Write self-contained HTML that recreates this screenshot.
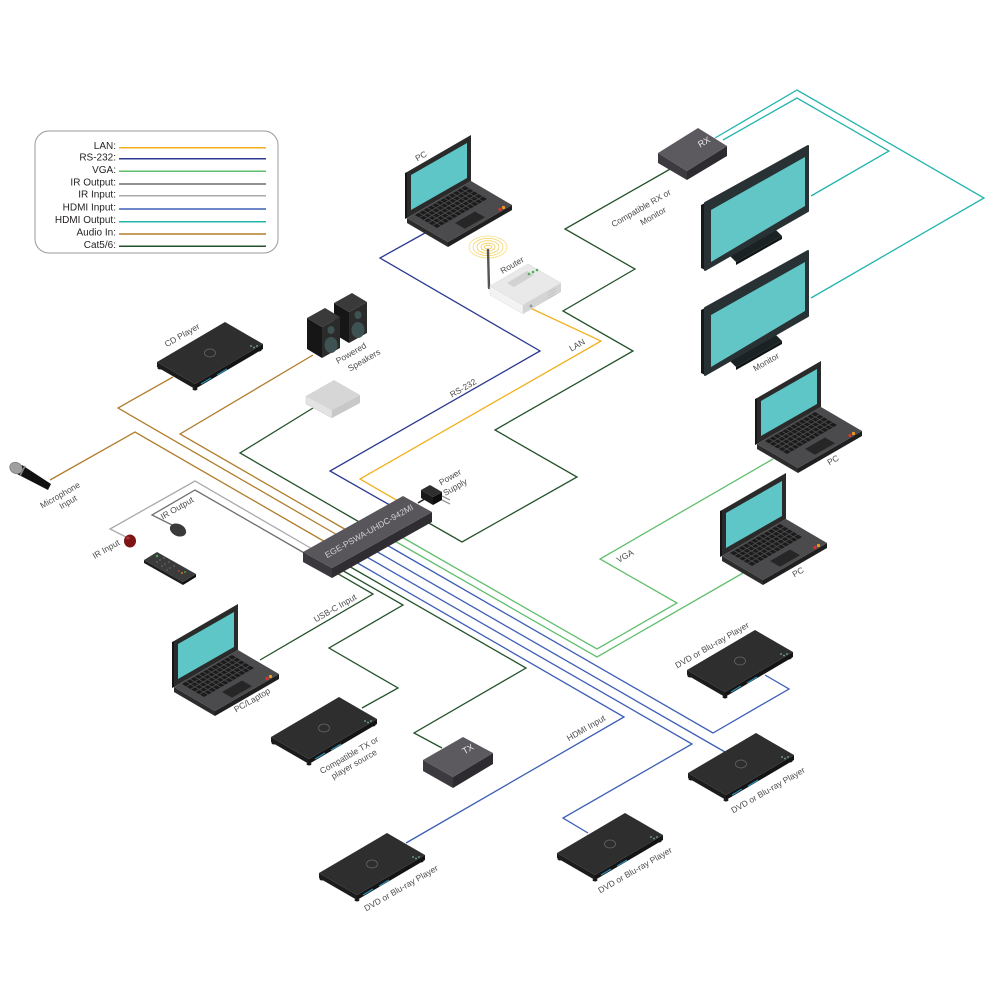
<!DOCTYPE html>
<html><head><meta charset="utf-8"><style>
html,body{margin:0;padding:0;background:#fff;}
svg{display:block;}
text{font-family:"Liberation Sans",sans-serif;}
.l{font-size:8.5px;fill:#4d4d4d;text-anchor:middle;}
.lg{font-size:10px;fill:#231f20;text-anchor:end;}
</style></head><body>
<svg width="1000" height="1000" viewBox="0 0 1000 1000" xmlns="http://www.w3.org/2000/svg">
<defs>
 <g id="lap">
  <polygon points="-2,1 -2,-45 0,-46 0,0" fill="#151515"/>
  <polygon points="0,0 0,-46 64,-83 64,-37" fill="#2a2a2a"/>
  <polygon points="4,-8 4,-43 60,-75 60,-40" fill="#5fc6c7"/>
  <polygon points="0,0 41,24 41,29 0,5" fill="#2c2c2c"/>
  <polygon points="41,24 105,-13 105,-8 41,29" fill="#1f1f1f"/>
  <polygon points="0,0 64,-37 105,-13 41,24" fill="#4b4b4d"/>
  <polygon points="8,-3 58,-32 80,-19 30,10" fill="#1b1b1b"/>
  <path d="M12.4,-0.4L62.4,-29.4M16.8,2.2L66.8,-26.8M21.2,4.8L71.2,-24.2M25.6,7.4L75.6,-21.6M12.2,-5.4L34.2,7.6M16.3,-7.8L38.3,5.2M20.5,-10.3L42.5,2.8M24.7,-12.7L46.7,0.3M28.8,-15.1L50.8,-2.1M33,-17.5L55,-4.5M37.2,-19.9L59.2,-6.9M41.3,-22.3L63.3,-9.3M45.5,-24.8L67.5,-11.8M49.7,-27.2L71.7,-14.2M53.8,-29.6L75.8,-16.6" stroke="#4b4b4d" stroke-width="0.9" fill="none"/>
  <polygon points="48,5 68,-6.5 78,-0.7 58,10.8" fill="#262626"/>
  <circle cx="93" cy="-8.5" r="1.6" fill="#d9342b"/>
  <circle cx="96.5" cy="-10.5" r="1.6" fill="#f39a1e"/>
 </g>
 <g id="dvd">
  <ellipse cx="3" cy="6" rx="2.5" ry="1.5" fill="#1a1a1a"/>
  <ellipse cx="38" cy="27" rx="2.5" ry="1.5" fill="#1a1a1a"/>
  <ellipse cx="102" cy="-12" rx="2.5" ry="1.5" fill="#1a1a1a"/>
  <polygon points="0,0 38,22 38,27 0,5" fill="#1c1c1c"/>
  <polygon points="38,22 106,-18 106,-13 38,27" fill="#141414"/>
  <polygon points="0,0 68,-40 106,-18 38,22" fill="#2e2e2e"/>
  <ellipse cx="53" cy="-9" rx="5.5" ry="4" fill="none" stroke="#6a6a6a" stroke-width="0.7"/>
  <line x1="44" y1="22" x2="54" y2="16" stroke="#2a90b5" stroke-width="1.2"/>
  <line x1="60" y1="13" x2="70" y2="7" stroke="#2a90b5" stroke-width="1.2"/>
  <circle cx="94" cy="-16" r="0.9" fill="#7aa"/>
  <circle cx="97" cy="-14.5" r="0.9" fill="#7aa"/>
  <circle cx="100" cy="-16" r="0.9" fill="#7aa"/>
 </g>
 <g id="mon">
  <polygon points="730,256 776,230 782,236 736,262" fill="#1b2223"/>
  <polygon points="736,262 782,236 782,239 736,265" fill="#0f1414"/>
  <polygon points="701,205 705,203 705,270 701,268" fill="#141a1b"/>
  <polygon points="705,203 808,146 808,211 705,270" fill="#283133" stroke="#283133" stroke-width="2" stroke-linejoin="round"/>
  <polygon points="711,210 805,157 805,206 711,262" fill="#62c6c7"/>
 </g>
</defs>

<!-- Legend -->
<rect x="35" y="131" width="243" height="122" rx="14" fill="#fff" stroke="#9a9a9a" stroke-width="1"/>
<g stroke-width="1.5">
 <line x1="119" y1="147.7" x2="266" y2="147.7" stroke="#f2b01e"/>
 <line x1="119" y1="158.7" x2="266" y2="158.7" stroke="#2b3990"/>
 <line x1="119" y1="171.3" x2="266" y2="171.3" stroke="#62bf6f"/>
 <line x1="119" y1="184" x2="266" y2="184" stroke="#6d6e71"/>
 <line x1="119" y1="195.7" x2="266" y2="195.7" stroke="#a7a9ac"/>
 <line x1="119" y1="209" x2="266" y2="209" stroke="#3c5eb5"/>
 <line x1="119" y1="221.7" x2="266" y2="221.7" stroke="#22b5ad"/>
 <line x1="119" y1="234" x2="266" y2="234" stroke="#b07d2b"/>
 <line x1="119" y1="246.3" x2="266" y2="246.3" stroke="#24522b"/>
</g>
<text class="lg" x="116" y="149">LAN:</text>
<text class="lg" x="116" y="160.5">RS-232:</text>
<text class="lg" x="116" y="173">VGA:</text>
<text class="lg" x="116" y="185.5">IR Output:</text>
<text class="lg" x="116" y="197.5">IR Input:</text>
<text class="lg" x="116" y="210.5">HDMI Input:</text>
<text class="lg" x="116" y="223">HDMI Output:</text>
<text class="lg" x="116" y="235.5">Audio In:</text>
<text class="lg" x="116" y="248">Cat5/6:</text>

<!-- Connectors -->
<g fill="none" stroke-width="1.3" stroke-linejoin="miter">
 <polyline stroke="#2b3990" points="425,233 380,258 540,351 330,471 395,508"/>
 <polyline stroke="#f2b01e" points="528,307 601,341 360,479 405,505"/>
 <polyline stroke="#24522b" points="672,168 565,229 635,269 563,311 633,351 495,430 577,477 462,542 420,518"/>
 <polyline stroke="#24522b" points="313,408 240,453 361,523"/>
 <polyline stroke="#b07d2b" points="313,355 180,434 348,531"/>
 <polyline stroke="#b07d2b" points="173,377 118,408 339,536"/>
 <polyline stroke="#b07d2b" points="50,480 135,432 327,543"/>
 <polyline stroke="#a7a9ac" points="128,538 110,529 195,481 314,550"/>
 <polyline stroke="#6d6e71" points="178,528 152,515 195,490 306,554"/>
 <polyline stroke="#62bf6f" points="400,536 597,649 677,603 600,559 773,459"/>
 <polyline stroke="#62bf6f" points="393,540 597,657 743,573"/>
 <polyline stroke="#3c5eb5" points="385,544 713,733 789,689 765,675"/>
 <polyline stroke="#3c5eb5" points="374,550 725,752"/>
 <polyline stroke="#3c5eb5" points="365,556 692,744 563,818 588,833"/>
 <polyline stroke="#3c5eb5" points="354,561 624,717 406,843"/>
 <polyline stroke="#24522b" points="347,565 526,668 414,733 442,748"/>
 <polyline stroke="#24522b" points="340,569 403,605 329,648 398,688 362,708"/>
 <polyline stroke="#24522b" points="335,572 373,594 260,660"/>
 <polyline stroke="#22b5ad" points="715,138 797,90 984,198 811,298"/>
 <polyline stroke="#22b5ad" points="723,140 797,98 889,151 811,196"/>
 <line x1="418" y1="503" x2="428" y2="497" stroke="#222" stroke-width="1.6"/>
</g>

<!-- Monitors -->
<use href="#mon"/>
<use href="#mon" transform="translate(0,105)"/>

<!-- RX -->
<polygon points="658,153 687,171 687,180 658,163" fill="#3c3a3f"/>
<polygon points="687,171 727,146 727,156 687,180" fill="#2d2b30"/>
<polygon points="658,153 698,128 727,146 687,171" fill="#5c5a5f"/>
<text transform="translate(704,142) rotate(-30)" style="font-size:9px;fill:#e8e8e8;text-anchor:middle" dy="3">RX</text>

<!-- TX -->
<polygon points="423,760 453,777 453,788 423,771" fill="#3c3a3f"/>
<polygon points="453,777 493,753 493,764 453,788" fill="#2d2b30"/>
<polygon points="423,760 463,737 493,753 453,777" fill="#5c5a5f"/>
<text transform="translate(468,749) rotate(-30)" style="font-size:9px;fill:#e8e8e8;text-anchor:middle" dy="3">TX</text>

<!-- Laptops -->
<use href="#lap" transform="translate(407,218)"/>
<use href="#lap" transform="translate(757,444)"/>
<use href="#lap" transform="translate(722,556)"/>
<use href="#lap" transform="translate(174,687)"/>

<!-- DVD / CD players -->
<use href="#dvd" transform="translate(687,670)"/>
<use href="#dvd" transform="translate(688,773)"/>
<use href="#dvd" transform="translate(557,853)"/>
<use href="#dvd" transform="translate(319,873)"/>
<use href="#dvd" transform="translate(271,737)"/>
<use href="#dvd" transform="translate(157,362)"/>

<!-- Router -->
<ellipse cx="488" cy="247" rx="19" ry="11" fill="none" stroke="#f7dc7a" stroke-width="0.8"/>
<ellipse cx="488" cy="247" rx="15" ry="8.7" fill="none" stroke="#f5d66e" stroke-width="0.8"/>
<ellipse cx="488" cy="247" rx="11" ry="6.4" fill="none" stroke="#f2cf5a" stroke-width="0.8"/>
<ellipse cx="488" cy="247" rx="7" ry="4" fill="none" stroke="#efc848" stroke-width="0.8"/>
<ellipse cx="488" cy="247" rx="3.5" ry="2" fill="none" stroke="#edc23a" stroke-width="0.8"/>
<line x1="489" y1="288" x2="488" y2="250" stroke="#555" stroke-width="2.4" stroke-linecap="round"/>
<polygon points="490,286 523,305 523,314 490,295" fill="#f3f3f3" stroke="#ddd" stroke-width="0.5"/>
<polygon points="523,305 561,283 561,292 523,314" fill="#d4d4d4"/>
<polygon points="490,286 528,264 561,283 523,305" fill="#e9e9e9" stroke="#d8d8d8" stroke-width="0.5"/>
<polygon points="507,283 527,271 534,275 514,287" fill="#d2d2d2"/>
<circle cx="529" cy="274" r="1.3" fill="#4caf50"/>
<circle cx="533" cy="272" r="1.3" fill="#4caf50"/>
<circle cx="537" cy="270" r="1.3" fill="#4caf50"/>
<path d="M548,293L556,288M548,296L556,291M548,299L556,294" stroke="#bbb" stroke-width="0.7"/>
<circle cx="531" cy="306" r="1.5" fill="#999"/>

<!-- Gray box -->
<polygon points="306,396 332,410 332,418 306,404" fill="#e3e3e3" stroke="#ccc" stroke-width="0.5"/>
<polygon points="332,410 360,395 360,403 332,418" fill="#c8c8c8"/>
<polygon points="306,396 334,380 360,395 332,410" fill="#d6d6d6"/>

<!-- Speakers -->
<polygon points="334,303 349,312 349,343 334,334" fill="#161616"/>
<polygon points="349,312 367,302 367,333 349,343" fill="#2b2b2b"/>
<polygon points="334,303 352,293 367,302 349,312" fill="#3a3a3a"/>
<ellipse cx="358" cy="315" rx="3.5" ry="4" fill="#3f5253"/>
<ellipse cx="358" cy="330" rx="6.5" ry="8" fill="#3f5253"/>
<polygon points="307,318 322,327 322,358 307,349" fill="#161616"/>
<polygon points="322,327 340,317 340,348 322,358" fill="#2b2b2b"/>
<polygon points="307,318 325,308 340,317 322,327" fill="#3a3a3a"/>
<ellipse cx="331" cy="330" rx="3.5" ry="4" fill="#3f5253"/>
<ellipse cx="331" cy="345" rx="6.5" ry="8" fill="#3f5253"/>

<!-- Main device -->
<polygon points="303,552 332,568 332,578 303,562" fill="#3a383c"/>
<polygon points="332,568 432,512 432,522 332,578" fill="#2f2d31"/>
<polygon points="303,552 403,496 432,512 332,568" fill="#58565b"/>
<text transform="translate(369,531) rotate(-29.5)" style="font-size:8.5px;fill:#d0d0d0;text-anchor:middle" dy="3" textLength="100" lengthAdjust="spacingAndGlyphs">EGE-PSWA-UHDC-942MI</text>

<!-- Power supply -->
<polygon points="421,490 433,497 433,505 421,498" fill="#1a1a1a"/>
<polygon points="433,497 442,492 442,500 433,505" fill="#0d0d0d"/>
<polygon points="421,490 430,485 442,492 433,497" fill="#2e2e2e"/>
<line x1="442" y1="496" x2="450" y2="500" stroke="#999" stroke-width="1.3"/>
<line x1="442" y1="500" x2="450" y2="504" stroke="#999" stroke-width="1.3"/>

<!-- Microphone -->
<polygon points="22,465 51,484 48,490 17,474" fill="#111"/>
<line x1="25" y1="466" x2="20" y2="476" stroke="#888" stroke-width="1.5"/>
<ellipse cx="16" cy="468" rx="6.5" ry="5.5" fill="#a0a0a0" stroke="#777" stroke-width="0.7" transform="rotate(30 16 468)"/>

<!-- IR devices & remote -->
<ellipse cx="130" cy="541" rx="6" ry="6.5" fill="#7d1416"/>
<ellipse cx="128" cy="538" rx="2" ry="1.5" fill="#a33"/>
<ellipse cx="178" cy="530" rx="8.5" ry="6" fill="#3a3a3a" transform="rotate(25 178 530)"/>
<polygon points="144,560 183,582 183,585 144,563" fill="#1d1d1d"/>
<polygon points="183,582 196,574 196,577 183,585" fill="#111"/>
<polygon points="144,560 157,552 196,574 183,582" fill="#3b3b3b"/>
<circle cx="157" cy="556" r="1.2" fill="#4caf50"/>
<g fill="#666">
 <circle cx="160" cy="560" r="0.9"/><circle cx="164" cy="558" r="0.9"/><circle cx="157" cy="562" r="0.9"/>
 <circle cx="165" cy="564" r="0.9"/><circle cx="169" cy="562" r="0.9"/><circle cx="162" cy="566" r="0.9"/>
 <circle cx="170" cy="568" r="0.9"/><circle cx="174" cy="566" r="0.9"/><circle cx="167" cy="570" r="0.9"/>
</g>
<circle cx="179" cy="571" r="0.9" fill="#d33"/><circle cx="182" cy="573" r="0.9" fill="#e90"/><circle cx="185" cy="572" r="0.9" fill="#4caf50"/>

<!-- Labels -->
<g class="l">
 <text class="l" transform="translate(421,156) rotate(-30)" dy="3">PC</text>
 <text class="l" transform="translate(512,265) rotate(-30)" dy="3">Router</text>
 <text class="l" transform="translate(463,388) rotate(-30)" dy="3">RS-232</text>
 <text class="l" transform="translate(577,345) rotate(-30)" dy="3">LAN</text>
 <text class="l" transform="translate(641,208) rotate(-30)" dy="3">Compatible RX or</text>
 <text class="l" transform="translate(653,216) rotate(-30)" dy="3">Monitor</text>
 <text class="l" transform="translate(766,362) rotate(-30)" dy="3">Monitor</text>
 <text class="l" transform="translate(833,460) rotate(-30)" dy="3">PC</text>
 <text class="l" transform="translate(798,572) rotate(-30)" dy="3">PC</text>
 <text class="l" transform="translate(625,556) rotate(-30)" dy="3">VGA</text>
 <text class="l" transform="translate(712,645) rotate(-30)" dy="3">DVD or Blu-ray Player</text>
 <text class="l" transform="translate(768,790) rotate(-30)" dy="3">DVD or Blu-ray Player</text>
 <text class="l" transform="translate(635,870) rotate(-30)" dy="3">DVD or Blu-ray Player</text>
 <text class="l" transform="translate(401,888) rotate(-30)" dy="3">DVD or Blu-ray Player</text>
 <text class="l" transform="translate(586,728) rotate(-30)" dy="3">HDMI Input</text>
 <text class="l" transform="translate(349,755) rotate(-30)" dy="3">Compatible TX or</text>
 <text class="l" transform="translate(354,764) rotate(-30)" dy="3">player source</text>
 <text class="l" transform="translate(252,700) rotate(-30)" dy="3">PC/Laptop</text>
 <text class="l" transform="translate(335,608) rotate(-30)" dy="3">USB-C Input</text>
 <text class="l" transform="translate(106,549) rotate(-30)" dy="3">IR Input</text>
 <text class="l" transform="translate(177,508) rotate(-30)" dy="3">IR Output</text>
 <text class="l" transform="translate(60,495) rotate(-30)" dy="3">Microphone</text>
 <text class="l" transform="translate(68,502) rotate(-30)" dy="3">Input</text>
 <text class="l" transform="translate(182,335) rotate(-30)" dy="3">CD Player</text>
 <text class="l" transform="translate(351,353) rotate(-30)" dy="3">Powered</text>
 <text class="l" transform="translate(364,360) rotate(-30)" dy="3">Speakers</text>
 <text class="l" transform="translate(450,477) rotate(-30)" dy="3">Power</text>
 <text class="l" transform="translate(455,487) rotate(-30)" dy="3">Supply</text>
</g>
</svg>
</body></html>
